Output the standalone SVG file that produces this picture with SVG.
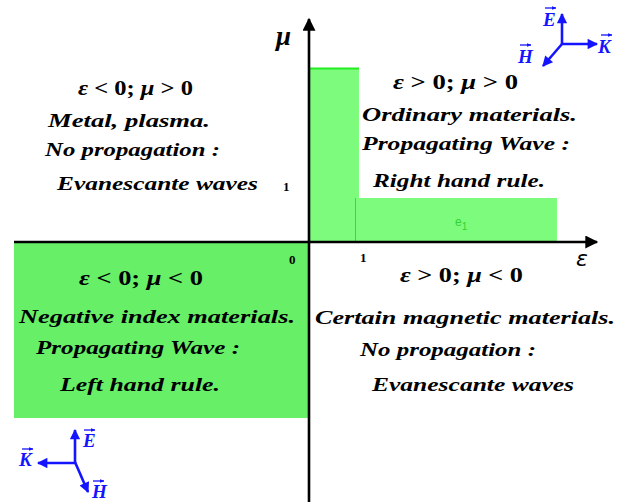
<svg xmlns="http://www.w3.org/2000/svg" width="634" height="502" viewBox="0 0 634 502">
<style>
.t{font-family:"Liberation Serif","DejaVu Serif",serif;font-style:italic;font-weight:bold;font-size:19.5px;fill:#000}
.eq{font-family:"Liberation Serif","DejaVu Serif",serif;font-weight:bold;font-size:20px;fill:#000}
.eq tspan.v{font-style:italic}
.n{font-family:"Liberation Serif","DejaVu Serif",serif;font-weight:bold;font-size:13px;fill:#000}
.vl{font-family:"Liberation Serif","DejaVu Serif",serif;font-style:italic;font-weight:bold;font-size:19px;fill:#1414ff}
.va{stroke:#1414ff;stroke-width:1.3;fill:none}
.vec{stroke:#1414ff;stroke-width:2.6;fill:none}
.ax{stroke:#000;stroke-width:2.6;fill:none}
</style>
<defs>
<marker id="ah" viewBox="0 0 10 10" refX="9" refY="5" markerWidth="6" markerHeight="5" markerUnits="strokeWidth" orient="auto"><path d="M0,0 L10,5 L0,10 z" fill="#000"/></marker>
<marker id="bh" viewBox="0 0 10 10" refX="9" refY="5" markerWidth="5" markerHeight="4" markerUnits="strokeWidth" orient="auto"><path d="M0,0 L10,5 L0,10 z" fill="#1414ff"/></marker>
<marker id="sh" viewBox="0 0 10 10" refX="9" refY="5" markerWidth="3.5" markerHeight="3.5" markerUnits="strokeWidth" orient="auto"><path d="M0,1 L10,5 L0,9 z" fill="#1414ff"/></marker>
</defs>

<g id="regions">
<rect x="310" y="68" width="49" height="174" fill="#7dfb7d"/>
<line x1="310" y1="68.5" x2="359" y2="68.5" stroke="#22ee22" stroke-width="2"/>
<rect x="355" y="198" width="202" height="44" fill="#7dfb7d"/>
<line x1="355.5" y1="198" x2="355.5" y2="242" stroke="#33dd33" stroke-width="1"/>
<rect x="14" y="242" width="294" height="176" fill="#68ef68"/>
<text x="455" y="226" font-family="Liberation Sans, Arial, sans-serif" font-size="12" fill="#2fd42f">e<tspan font-size="10" dy="4">1</tspan></text>
</g>

<g id="connectors">
<line class="ax" x1="14" y1="242" x2="597" y2="242" marker-end="url(#ah)"/>
<line class="ax" x1="309" y1="502" x2="309" y2="19" marker-end="url(#ah)"/>
</g>

<g id="axis-labels">
<text x="276" y="45" font-family="Liberation Serif, DejaVu Serif, serif" font-style="italic" font-weight="bold" font-size="27">μ</text>
<text x="576" y="266" font-family="DejaVu Sans, sans-serif" font-style="italic" font-size="22">ε</text>
<text class="n" x="283" y="191">1</text>
<text class="n" x="289" y="264">0</text>
<text class="n" x="360" y="262">1</text>
</g>

<g id="q2">
<text class="eq" x="78" y="95" textLength="115" lengthAdjust="spacingAndGlyphs"><tspan class="v">ε</tspan> &lt; 0;  <tspan class="v">μ</tspan> &gt; 0</text>
<text class="t" x="48" y="127" textLength="162" lengthAdjust="spacingAndGlyphs">Metal, plasma.</text>
<text class="t" x="45" y="156" textLength="175" lengthAdjust="spacingAndGlyphs">No propagation :</text>
<text class="t" x="57" y="190" textLength="201" lengthAdjust="spacingAndGlyphs">Evanescante waves</text>
</g>

<g id="q1">
<text class="eq" x="393" y="89" textLength="125" lengthAdjust="spacingAndGlyphs"><tspan class="v">ε</tspan> &gt; 0;  <tspan class="v">μ</tspan> &gt; 0</text>
<text class="t" x="362" y="121" textLength="215" lengthAdjust="spacingAndGlyphs">Ordinary materials.</text>
<text class="t" x="362" y="150" textLength="208" lengthAdjust="spacingAndGlyphs">Propagating Wave :</text>
<text class="t" x="373" y="187" textLength="172" lengthAdjust="spacingAndGlyphs">Right hand rule.</text>
</g>

<g id="q3">
<text class="eq" x="79" y="285" textLength="124" lengthAdjust="spacingAndGlyphs"><tspan class="v">ε</tspan> &lt; 0;  <tspan class="v">μ</tspan> &lt; 0</text>
<text class="t" x="19" y="323" textLength="276" lengthAdjust="spacingAndGlyphs">Negative index materials.</text>
<text class="t" x="36" y="354" textLength="204" lengthAdjust="spacingAndGlyphs">Propagating Wave :</text>
<text class="t" x="60" y="391" textLength="160" lengthAdjust="spacingAndGlyphs">Left hand rule.</text>
</g>

<g id="q4">
<text class="eq" x="400" y="282" textLength="123" lengthAdjust="spacingAndGlyphs"><tspan class="v">ε</tspan> &gt; 0;  <tspan class="v">μ</tspan> &lt; 0</text>
<text class="t" x="315" y="324" textLength="300" lengthAdjust="spacingAndGlyphs">Certain magnetic materials.</text>
<text class="t" x="360" y="356" textLength="176" lengthAdjust="spacingAndGlyphs">No propagation :</text>
<text class="t" x="372" y="391" textLength="202" lengthAdjust="spacingAndGlyphs">Evanescante waves</text>
</g>

<g id="triad-top">
<line class="vec" x1="562" y1="45" x2="562" y2="14" marker-end="url(#bh)"/>
<line class="vec" x1="561" y1="44" x2="597" y2="44" marker-end="url(#bh)"/>
<line class="vec" x1="562" y1="44" x2="543" y2="66" marker-end="url(#bh)"/>
<text class="vl" x="543" y="26">E</text>
<line class="va" x1="545" y1="8" x2="556" y2="8" marker-end="url(#sh)"/>
<text class="vl" x="598" y="53">K</text>
<line class="va" x1="601" y1="35" x2="612" y2="35" marker-end="url(#sh)"/>
<text class="vl" x="518" y="63">H</text>
<line class="va" x1="520" y1="45" x2="531" y2="45" marker-end="url(#sh)"/>
</g>

<g id="triad-bottom">
<line class="vec" x1="75" y1="463" x2="75" y2="430" marker-end="url(#bh)"/>
<line class="vec" x1="76" y1="463" x2="38" y2="463" marker-end="url(#bh)"/>
<line class="vec" x1="75" y1="462" x2="88" y2="492" marker-end="url(#bh)"/>
<text class="vl" x="83" y="447">E</text>
<line class="va" x1="84" y1="430" x2="95" y2="430" marker-end="url(#sh)"/>
<text class="vl" x="19" y="466">K</text>
<line class="va" x1="22" y1="449" x2="33" y2="449" marker-end="url(#sh)"/>
<text class="vl" x="92" y="498">H</text>
<line class="va" x1="93" y1="481" x2="104" y2="481" marker-end="url(#sh)"/>
</g>
</svg>
